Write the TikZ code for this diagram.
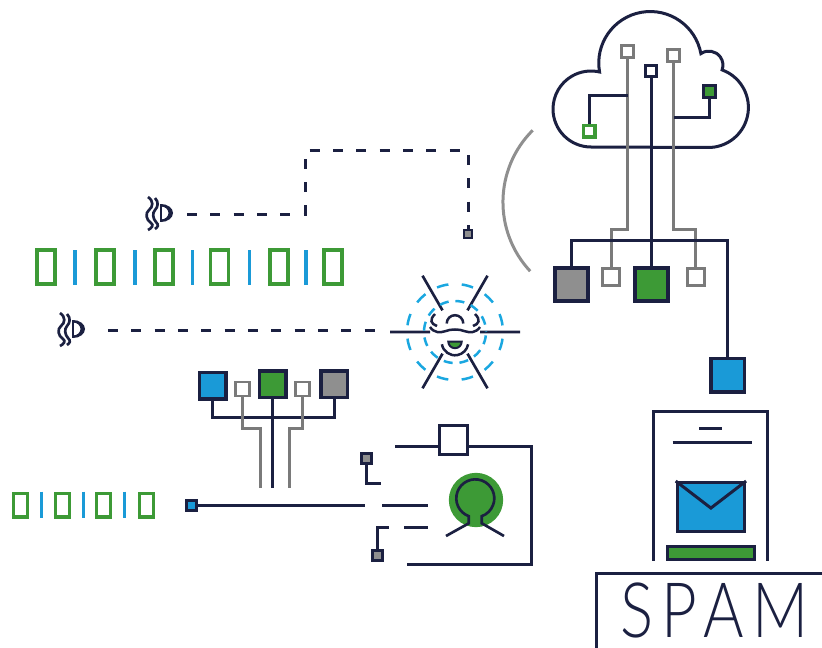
\documentclass[tikz,border=0pt]{standalone}
\usepackage{fontspec}
\usepackage{graphicx}
\usetikzlibrary{calc,positioning}
\IfFontExistsTF{Lato Light}{\newfontfamily\spamfont{Lato Light}[LetterSpace=14]}{%
  \IfFontExistsTF{Open Sans Light}{\newfontfamily\spamfont{Open Sans Light}[LetterSpace=14]}{%
    \IfFontExistsTF{Fira Sans Light}{\newfontfamily\spamfont{Fira Sans Light}[LetterSpace=14]}{%
      \newfontfamily\spamfont{DejaVu Sans}[LetterSpace=14]}}}
\definecolor{navy}{HTML}{1B2041}
\definecolor{leaf}{HTML}{3D9A36}
\definecolor{sky}{HTML}{1A9AD7}
\definecolor{stone}{HTML}{8F8F8F}
\definecolor{ash}{HTML}{7A7A7A}
\definecolor{web}{HTML}{1AA7E0}
\tikzset{nline/.style={draw=navy, line width=0.9mm},
  gline/.style={draw=ash, line width=0.9mm},
  dline/.style={draw=navy, line width=0.9mm, dash pattern=on 3mm off 4mm},
  spoke/.style={draw=navy, line width=0.8mm},
  webline/.style={draw=web, line width=0.75mm},
  box/.style={draw=navy, line width=1.1mm, inner sep=0pt, minimum size=#1},
  hollow/.style={draw=ash, fill=white, line width=0.9mm, inner sep=0pt, minimum size=#1},
  zero/.style={draw=leaf, line width=1.05mm, inner sep=0pt, minimum width=5.4mm, minimum height=10.2mm},
  zerosm/.style={zero, minimum width=4.2mm, minimum height=7.1mm},
  one/.style={draw=sky, line width=1mm},
  ear/.pic={
    \draw[navy, line width=0.8mm] (-9,-16) .. controls (-3,-12) and (-4,-6) .. (-8,-3)
      .. controls (-12,0) and (-11,7) .. (-6,10) .. controls (-3,12) and (-5,15) .. (-9,17);
    \draw[navy, line width=0.8mm] (-2,-15) .. controls (2,-11) and (1,-6) .. (-2,-3)
      .. controls (-5,0) and (-4,6) .. (-1,9) .. controls (2,12) and (1,14) .. (-2,16);
    \draw[navy, line width=0.6mm] (4,-9) -- (4,9);
    \fill[navy] (4,-9) arc[start angle=-90, end angle=90, x radius=12, y radius=9] -- (4,6.5)
      arc[start angle=90, end angle=-90, x radius=7.5, y radius=6.5] -- cycle;
  }}

\begin{document}
\begin{tikzpicture}[x=0.3mm, y=-0.3mm]
  \useasboundingbox (0,0) rectangle (822,648);

  % cloud
  \draw[nline] (591,147) arc[start angle=90, end angle=283, radius=38]
    arc[start angle=170, end angle=349.5, radius=51.5]
    arc[start angle=235, end angle=380, radius=14]
    arc[start angle=290, end angle=450, radius=40] -- cycle;
  \node[hollow=3.6mm] (c1) at (627.5,51.5) {};
  \node[hollow=3.6mm] (c2) at (673.5,56) {};
  \node[box=3.3mm, line width=0.9mm, fill=white] (c3) at (651,71) {};
  \node[box=3.6mm, line width=0.9mm, fill=leaf] (cg) at (709,92) {};
  \node[draw=leaf, fill=white, line width=1mm, inner sep=0pt, minimum size=3.5mm] (co) at (589,131) {};
  \node[box=9.9mm, line width=1.2mm, fill=stone] (gy) at (571.3,284) {};
  \node[hollow=5.1mm] (w1) at (611.3,276.7) {};
  \node[box=9.9mm, line width=1.2mm, fill=leaf] (gg) at (651,284) {};
  \node[hollow=5.1mm] (w2) at (695.5,276.7) {};
  \node[box=10mm, fill=sky] (bl) at (727.8,375) {};
  \draw[gline] (c1.south) -- ++(0,170) -| (w1.north);
  \draw[gline] (c2.south) -- ++(0,166) -| (w2.north);
  \draw[nline] (co.north) |- ($(c1.south)+(0,37)$);
  \draw[nline] (cg.south) |- ($(c2.south)+(0,54)$);
  \draw[nline] (c3.south) -- (gg.north);
  \draw[nline] (gy.north) -- ++(0,-25) -| (bl.north);
  \draw[draw=stone, line width=0.9mm] (530.2,271.2) arc[start angle=137, end angle=225, radius=101.4];

  % phone and spam box
  \draw[nline] (653.3,560.7) |- (767.3,411.7) -- (767.3,560.7);
  \draw[nline] (699.3,428.3) -- (721.7,428.3);
  \draw[nline] (672.7,442.7) -- (751.7,442.7);
  \node[draw=navy, line width=0.9mm, fill=sky, inner sep=0pt, minimum width=20.2mm, minimum height=14.6mm] (env) at (710.9,506.9) {};
  \draw[nline] (env.north west) -- ($(env.north)+(0,27)$) -- (env.north east);
  \node[draw=navy, line width=0.9mm, fill=leaf, inner sep=0pt, minimum width=26mm, minimum height=3.8mm] (bar) at (710.9,552.9) {};
  \draw[nline] (596.7,648) |- (822,573.3);
  \node[anchor=base west, text=navy, inner sep=0pt] (spam) at (620,637.5)
    {\resizebox{56.5mm}{16.4mm}{\spamfont\fontsize{60}{60}\selectfont SPAM}};

  % spider web
  \begin{scope}[shift={(455,332)}]
    \draw[spoke] (0:25) -- (0:65) (60:25) -- (60:65) (120:25) -- (120:65)
      (180:25) -- (180:65) (240:25) -- (240:65) (300:25) -- (300:65);
    \draw[webline, dash pattern=on 3.52mm off 4.02mm, dash phase=5.53mm] (0,0) circle[radius=48];
    \draw[webline, dash pattern=on 2.7mm off 2.07mm, dash phase=3.75mm] (0,0) circle[radius=31];
    \draw[spoke, line width=0.75mm] (-8.3,-8.5) arc[start angle=180, end angle=360, radius=8.3];
    \draw[spoke, line width=0.75mm] (-20,-18) .. controls (-26,-12) and (-24,-8) .. (-18,-6);
    \draw[spoke, line width=0.75mm] (20,-18) .. controls (26,-12) and (24,-8) .. (18,-6);
    \draw[spoke, line width=0.75mm] (-25,-5) .. controls (-21,1) and (-15,1) .. (-9,-1)
      .. controls (-5,-3) and (5,-3) .. (9,-1) .. controls (15,1) and (21,1) .. (25,-5);
    \draw[spoke, line width=0.75mm] (-13.1,12.3) arc[start angle=170, end angle=10, radius=13.3];
    \filldraw[fill=leaf, draw=navy, line width=0.6mm] (-6.7,9.5) arc[start angle=180, end angle=0, radius=6.7] -- cycle;
  \end{scope}

  % listeners and dashed taps
  \pic at (157,213) {ear};
  \pic at (69,329) {ear};
  \coordinate (h1) at (187,214);
  \coordinate (h2) at (108,330);
  \coordinate (h3) at (388,330);
  \node[box=2.4mm, line width=0.8mm, fill=stone] (q) at (468,234) {};
  \draw[dline] (h1) -| ++(118,-64) -| (q.north);
  \draw[dline] (h2) -- (h3);

  % bit strings
  \node[zero] (b1) at (45.8,267.2) {};
  \node[zero] (b2) at (105.2,267.2) {};
  \node[zero] (b3) at (163.8,267.2) {};
  \node[zero] (b4) at (219.5,267.2) {};
  \node[zero] (b5) at (279,267.2) {};
  \node[zero] (b6) at (332.8,267.2) {};
  \draw[one] (75,250) -- (75,285) (135,250) -- (135,285) (192.7,250) -- (192.7,285)
    (249.3,250) -- (249.3,285) (306,250) -- (306,285);
  \node[zerosm] (d1) at (20.5,505.3) {};
  \node[zerosm] (d2) at (62.5,505.3) {};
  \node[zerosm] (d3) at (103.3,505.3) {};
  \node[zerosm] (d4) at (146.7,505.3) {};
  \draw[one] (41.7,491.7) -- (41.7,518.3) (83.3,491.7) -- (83.3,518.3) (124.3,491.7) -- (124.3,518.3);

  % small tree
  \node[box=7.95mm, line width=1.05mm, fill=sky] (tb) at (212.5,385.8) {};
  \node[hollow=4.2mm, line width=0.85mm] (tw1) at (242.8,389) {};
  \node[box=7.95mm, line width=1.05mm, fill=leaf] (tg) at (272.5,384.3) {};
  \node[hollow=4.2mm, line width=0.85mm] (tw2) at (302.7,389) {};
  \node[box=7.95mm, line width=1.05mm, fill=stone] (ty) at (334.3,384.3) {};
  \coordinate (t1) at (260,488);
  \coordinate (t2) at (272.5,488);
  \coordinate (t3) at (289.3,488);
  \draw[nline] (tb.south) -- ++(0,17) -| (ty.south);
  \draw[gline] (tw1.south) -- ++(0,31) -| (t1);
  \draw[nline] (tg.south) -- (t2);
  \draw[gline] (tw2.south) -- ++(0,31) -| (t3);

  % access circuit
  \node[box=3mm, line width=0.9mm, fill=sky] (sb) at (191.7,505.5) {};
  \node[box=3mm, line width=0.9mm, fill=stone] (p1) at (366,458.3) {};
  \node[box=3mm, line width=0.9mm, fill=stone] (p2) at (377.3,555) {};
  \node[draw=navy, fill=white, line width=0.9mm, inner sep=0pt, minimum width=8.4mm, minimum height=8.7mm] (ts) at (453.8,440.3) {};
  \node[circle, fill=leaf, inner sep=0pt, minimum size=16.3mm] (gc) at (476,500) {};
  \coordinate (s1) at (365,505.5);
  \coordinate (s2) at (382,505.5);
  \coordinate (s3) at (428,505.5);
  \coordinate (s4) at (380.7,483.3);
  \coordinate (s5) at (389.3,527.3);
  \coordinate (s6) at (404,527.3);
  \coordinate (s7) at (428.3,527.3);
  \coordinate (k1) at (395,446.7);
  \coordinate (k2) at (531.7,564);
  \coordinate (k3) at (406.7,564);
  \draw[nline] (sb.east) -- (s1);
  \draw[nline] (s2) -- (s3);
  \draw[nline] (p1.south) |- (s4);
  \draw[nline] (p2.north) |- (s5);
  \draw[nline] (s6) -- (s7);
  \draw[nline] (k1) -- (k1 -| ts.west);
  \draw[nline] (k1 -| ts.east) -| (k2) -- (k3);
  \draw[nline, line width=0.8mm] ($(gc)+(-30,36)$) -- ($(gc)+(-7.2,23.3)$) -- ($(gc)+(-7.2,16.2)$)
    arc[start angle=110, end angle=430, radius=19] -- ($(gc)+(5.8,23.3)$) -- ($(gc)+(28,36)$);
\end{tikzpicture}
\end{document}
